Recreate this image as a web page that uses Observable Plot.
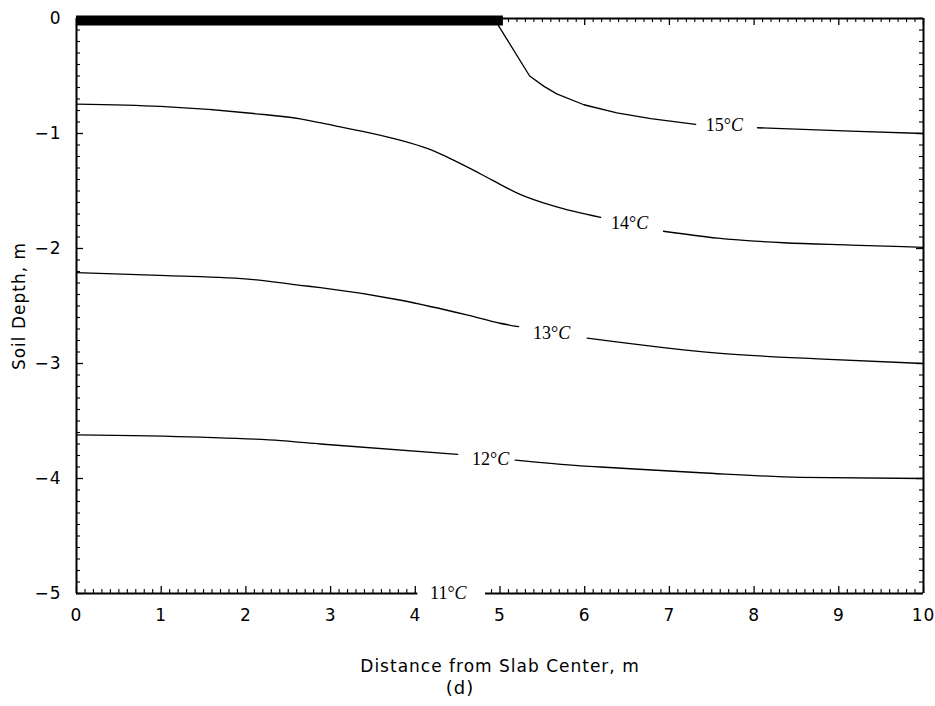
<!DOCTYPE html>
<html>
<head>
<meta charset="utf-8">
<script src="https://cdn.jsdelivr.net/npm/d3@7"></script>
<script src="https://cdn.jsdelivr.net/npm/@observablehq/plot@0.6"></script>
<style>
  html, body { margin: 0; padding: 0; background: #fff; }
  #chart svg { display: block; }
  #chart svg text { letter-spacing: 1px; }
  #chart svg text.iso-label { letter-spacing: 0; }
</style>
</head>
<body>
<div id="chart"></div>
<script>
// ---- data ----
const xTickLabels = [0, 1, 2, 3, 4, 5, 6, 7, 8, 9, 10];
const yTickLabels = [0, -1, -2, -3, -4, -5];

// isotherms: distance (m) and depth (m); null marks the gap where the label sits
const iso15x = [4.98, 5.35, 5.52, 5.67, 5.99, 6.38, 6.78, 7.31, null, 8.04, 9.14, 10];
const iso15y = [-0.06, -0.50, -0.59, -0.655, -0.75, -0.82, -0.87, -0.92, null, -0.95, -0.98, -1.0];

const iso14x = [0, 0.99, 2.09, 2.64, 3.03, 3.43, 3.83, 4.14, 4.42, 4.69, 4.92, 5.21, 5.63, 6.19, null, 6.93, 7.57, 8.35, 9.14, 10];
const iso14y = [-0.745, -0.765, -0.826, -0.872, -0.93, -0.99, -1.06, -1.13, -1.22, -1.32, -1.41, -1.52, -1.63, -1.73, null, -1.85, -1.91, -1.95, -1.97, -1.99];

const iso13x = [0, 1.07, 2.09, 2.64, 2.88, 3.83, 4.62, 5.0, 5.22, null, 6.03, 7.57, 8.75, 10];
const iso13y = [-2.21, -2.235, -2.27, -2.32, -2.34, -2.45, -2.58, -2.65, -2.68, null, -2.78, -2.91, -2.96, -3.0];

const iso12x = [0, 1.46, 2.41, 2.88, 4.50, null, 5.18, 5.95, 6.19, 7.37, 8.55, 10];
const iso12y = [-3.62, -3.64, -3.67, -3.70, -3.79, null, -3.84, -3.89, -3.90, -3.95, -3.99, -4.0];

const labelTemps = [15, 14, 13, 12, 11];
const labelX = [7.65, 6.53, 5.61, 4.89, 4.39];
const labelY = [-0.93, -1.78, -2.74, -3.83, -5.0];

const slabHalfWidth = 5.04;        // slab (thick bar) from centre to edge, m
const bottomAxisGap = [4.03, 4.83]; // bottom frame is broken around the 11°C label

// ---- build tables ----
const toRows = (T, xs, ys) => xs.map((x, i) => ({T, x: x ?? NaN, y: ys[i] ?? NaN}));
const iso15Rows = toRows(15, iso15x, iso15y);
const isoRows = [...toRows(14, iso14x, iso14y), ...toRows(13, iso13x, iso13y), ...toRows(12, iso12x, iso12y)];

const labels = labelTemps.map((T, i) => ({T, x: labelX[i], y: labelY[i], text: `${T}°C`}));

const minorX = d3.range(1, 100).map(d => d / 10).filter(d => d % 1 !== 0);
const minorY = d3.range(-49, 0).map(d => d / 10).filter(d => d % 1 !== 0);
const inGap = v => v > bottomAxisGap[0] && v < bottomAxisGap[1];

const W = 935, H = 706, mL = 76, mR = 12, mT = 18, mB = 113;
const fw = W - mL - mR, fh = H - mT - mB;
const majLen = 7, minLen = 4;
const fmt = d => (d < 0 ? "\u2212" : "") + Math.abs(d);

const chart = Plot.plot({
  width: W, height: H,
  marginLeft: mL, marginRight: mR, marginTop: mT, marginBottom: mB,
  style: {fontFamily: "DejaVu Sans", fontSize: "17px", color: "#000", background: "#fff"},
  x: {domain: [0, 10]},
  y: {domain: [-5, 0]},
  marks: [
    // frame
    Plot.ruleY([0], {stroke: "#000", strokeWidth: 2}),
    Plot.ruleX([0], {stroke: "#000", strokeWidth: 2}),
    Plot.ruleX([10], {stroke: "#000", strokeWidth: 2}),
    Plot.ruleY([{x1: 0, x2: bottomAxisGap[0]}, {x1: bottomAxisGap[1], x2: 10}], {y: () => -5, x1: "x1", x2: "x2", stroke: "#000", strokeWidth: 2}),
    // inward ticks: bottom
    Plot.tickX(xTickLabels.filter(d => !inGap(d)), {x: d => d, insetTop: fh - majLen, stroke: "#000", strokeWidth: 1.3}),
    Plot.tickX(minorX.filter(d => !inGap(d)), {x: d => d, insetTop: fh - minLen, stroke: "#000", strokeWidth: 1.1}),
    // top
    Plot.tickX(xTickLabels, {x: d => d, insetBottom: fh - majLen, stroke: "#000", strokeWidth: 1.3}),
    Plot.tickX(minorX, {x: d => d, insetBottom: fh - minLen, stroke: "#000", strokeWidth: 1.1}),
    // left
    Plot.tickY(yTickLabels, {y: d => d, insetRight: fw - majLen, stroke: "#000", strokeWidth: 1.3}),
    Plot.tickY(minorY, {y: d => d, insetRight: fw - minLen, stroke: "#000", strokeWidth: 1.1}),
    // right
    Plot.tickY(yTickLabels, {y: d => d, insetLeft: fw - majLen, stroke: "#000", strokeWidth: 1.3}),
    Plot.tickY(minorY, {y: d => d, insetLeft: fw - minLen, stroke: "#000", strokeWidth: 1.1}),
    // slab
    Plot.ruleY([0], {x1: () => 0, x2: () => slabHalfWidth, stroke: "#000", strokeWidth: 10, dy: 2}),
    // isotherms
    Plot.line(iso15Rows, {x: "x", y: "y", stroke: "#000", strokeWidth: 1.3, curve: "linear"}),
    Plot.line(isoRows, {x: "x", y: "y", z: "T", stroke: "#000", strokeWidth: 1.3, curve: "monotone-x"}),
    Plot.text(labels, {x: "x", y: "y", text: "text", fontFamily: "Liberation Serif", fontSize: 18, fill: "#000"}),
    // axes
    Plot.axisX(xTickLabels, {anchor: "bottom", tickSize: 0, tickPadding: 15, tickFormat: fmt,
      label: "Distance from Slab Center, m", labelAnchor: "center", labelOffset: 78, labelArrow: "none"}),
    Plot.axisY(yTickLabels, {anchor: "left", tickSize: 0, tickPadding: 15, tickFormat: fmt,
      label: "Soil Depth, m", labelAnchor: "center", labelOffset: 64, labelArrow: "none"}),
    Plot.text(["(d)"], {frameAnchor: "bottom", dx: -40, dy: 100, fontSize: 18, fill: "#000"})
  ]
});

document.getElementById("chart").appendChild(chart);

// italic "C" in isotherm labels
const labelTexts = new Set(labels.map(d => d.text));
d3.select(chart).selectAll("text").each(function () {
  const t = this.textContent;
  if (!labelTexts.has(t) || this.querySelector("tspan")) return;
  const sel = d3.select(this).classed("iso-label", true);
  sel.text(null);
  sel.append("tspan").text(t.slice(0, -1));
  sel.append("tspan").attr("font-style", "italic").text("C");
});
</script>
</body>
</html>
